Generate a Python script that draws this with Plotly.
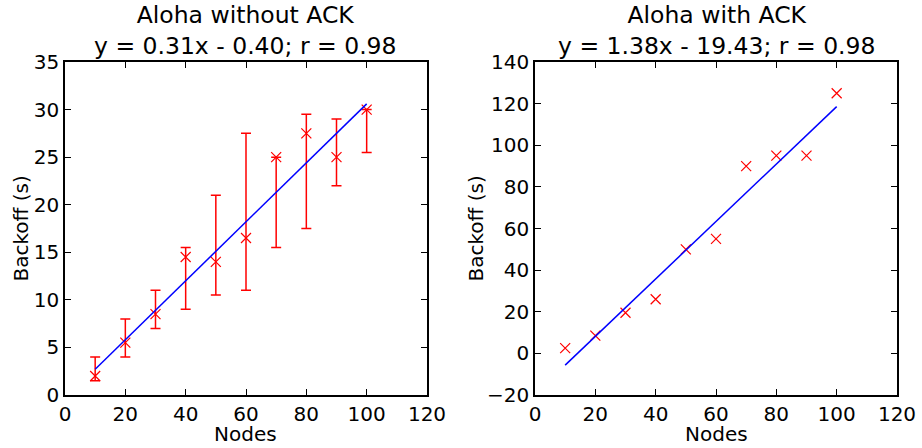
import plotly.graph_objects as go
import numpy as np

nodes = [10, 20, 30, 40, 50, 60, 70, 80, 90, 100]

# Aloha without ACK: backoff with error range (lower/upper ends of the bars)
noack_backoff = [2.0, 5.5, 8.5, 14.5, 14.0, 16.5, 25.0, 27.5, 25.0, 30.0]
noack_low = [1.5, 4.0, 7.0, 9.0, 10.5, 11.0, 15.5, 17.5, 22.0, 25.5]
noack_high = [4.0, 8.0, 11.0, 15.5, 21.0, 27.5, 25.0, 29.5, 29.0, 30.0]

# Aloha with ACK
ack_backoff = [2.5, 8.5, 19.5, 26.0, 50.0, 55.0, 90.0, 95.0, 95.0, 125.0]

# fit values as printed in the titles
noack_fit = (0.31, -0.40, 0.98)
ack_fit = (1.38, -19.43, 0.98)

FONT = "DejaVu Sans"
W, H = 922, 448


def fit_line(fit):
    xs = np.array([min(nodes), max(nodes)])
    return xs, fit[0] * xs + fit[1]


def fit_title(name, fit):
    sign = "-" if fit[1] < 0 else "+"
    return f"{name}<br>y = {fit[0]:.2f}x {sign} {abs(fit[1]):.2f}; r = {fit[2]:.2f}"


fig = go.Figure()

err_plus = [h - y for h, y in zip(noack_high, noack_backoff)]
err_minus = [y - l for l, y in zip(noack_low, noack_backoff)]

fig.add_trace(go.Scatter(
    x=nodes, y=noack_backoff, mode="markers",
    marker=dict(symbol="x-thin-open", size=10, line=dict(color="red", width=1.2), color="red"),
    error_y=dict(type="data", symmetric=False, array=err_plus, arrayminus=err_minus,
                 color="red", thickness=1.5, width=5),
    xaxis="x", yaxis="y", showlegend=False,
))
lx, ly = fit_line(noack_fit)
fig.add_trace(go.Scatter(x=lx, y=ly, mode="lines", line=dict(color="blue", width=1.5),
                         xaxis="x", yaxis="y", showlegend=False))

fig.add_trace(go.Scatter(
    x=nodes, y=ack_backoff, mode="markers",
    marker=dict(symbol="x-thin-open", size=10, line=dict(color="red", width=1.2), color="red"),
    xaxis="x2", yaxis="y2", showlegend=False,
))
lx, ly = fit_line(ack_fit)
fig.add_trace(go.Scatter(x=lx, y=ly, mode="lines", line=dict(color="blue", width=1.5),
                         xaxis="x2", yaxis="y2", showlegend=False))

left_dom = [65 / W, 427 / W]
right_dom = [535 / W, 897 / W]
y_dom = [1 - 395 / H, 1 - 62 / H]

axis_style = dict(
    showline=True, linecolor="black", linewidth=1.5, mirror="allticks",
    ticks="inside", ticklen=6, tickwidth=1, tickcolor="black",
    showgrid=False, zeroline=False, automargin=False,
    tickfont=dict(family=FONT, size=20, color="black"),
)

title_font = dict(family=FONT, size=23.5, color="black")
label_font = dict(family=FONT, size=20, color="black")
y_mid = sum(y_dom) / 2


def label(text, x, y, angle=0):
    return dict(text=text, xref="paper", yref="paper", x=x, y=y, xanchor="center",
                yanchor="middle", textangle=angle, showarrow=False, font=label_font)


fig.update_layout(
    width=W, height=H,
    margin=dict(l=0, r=0, t=0, b=0),
    plot_bgcolor="white", paper_bgcolor="white",
    font=dict(family=FONT, color="black"),
    xaxis=dict(domain=left_dom, range=[0, 120], dtick=20, anchor="y", **axis_style),
    yaxis=dict(domain=y_dom, range=[0, 35], dtick=5, anchor="x", **axis_style),
    xaxis2=dict(domain=right_dom, range=[0, 120], dtick=20, anchor="y2", **axis_style),
    yaxis2=dict(domain=y_dom, range=[-20, 140], dtick=20, anchor="x2", **axis_style),
    annotations=[
        dict(text=fit_title("Aloha without ACK", noack_fit), xref="paper", yref="paper",
             x=sum(left_dom) / 2, y=y_dom[1], xanchor="center", yanchor="bottom",
             showarrow=False, font=title_font),
        dict(text=fit_title("Aloha with ACK", ack_fit), xref="paper", yref="paper",
             x=sum(right_dom) / 2, y=y_dom[1], xanchor="center", yanchor="bottom",
             showarrow=False, font=title_font),
        label("Nodes", sum(left_dom) / 2, 1 - 434 / H),
        label("Nodes", sum(right_dom) / 2, 1 - 434 / H),
        label("Backoff (s)", 20 / W, y_mid, -90),
        label("Backoff (s)", 475 / W, y_mid, -90),
    ],
)

# drop the page's default body margin so the figure sits at the window's corner
fig.write_html("out.html", config={"displayModeBar": False},
               post_script="document.body.style.margin='0';")
